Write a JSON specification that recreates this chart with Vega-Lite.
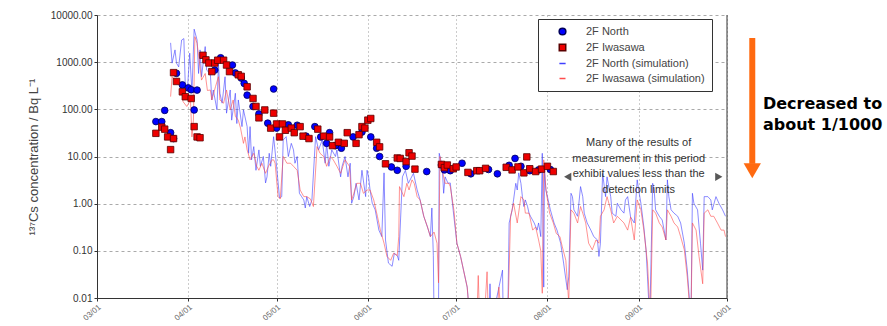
{
"$schema":"https://vega.github.io/schema/vega-lite/v6.json",
"width":630,"height":283,
"autosize":{"type":"none"},
"padding":{"left":97,"top":15,"right":160,"bottom":28},
"background":"white",
"config":{"view":{"stroke":null},"font":"Liberation Sans",
 "legend":{"orient":"none","legendX":441,"legendY":4,"strokeColor":"#333","fillColor":"#fff","padding":7,"labelFontSize":11,"labelColor":"#444","rowPadding":3,"symbolStrokeWidth":1.5,"symbolOpacity":1,"labelOffset":18,"symbolOffset":12}},
"datasets":{
"obs":[
{"date":"2011/03/21","value":55,"series":"2F North"},
{"date":"2011/03/23","value":55,"series":"2F North"},
{"date":"2011/03/24","value":95,"series":"2F North"},
{"date":"2011/03/26","value":32,"series":"2F North"},
{"date":"2011/03/27","value":24,"series":"2F North"},
{"date":"2011/03/28","value":580,"series":"2F North"},
{"date":"2011/03/30","value":330,"series":"2F North"},
{"date":"2011/04/01","value":285,"series":"2F North"},
{"date":"2011/04/02","value":260,"series":"2F North"},
{"date":"2011/04/03","value":97,"series":"2F North"},
{"date":"2011/04/04","value":256,"series":"2F North"},
{"date":"2011/04/10","value":680,"series":"2F North"},
{"date":"2011/04/12","value":1240,"series":"2F North"},
{"date":"2011/04/16","value":870,"series":"2F North"},
{"date":"2011/04/17","value":590,"series":"2F North"},
{"date":"2011/04/19","value":460,"series":"2F North"},
{"date":"2011/04/20","value":355,"series":"2F North"},
{"date":"2011/04/21","value":200,"series":"2F North"},
{"date":"2011/04/23","value":115,"series":"2F North"},
{"date":"2011/04/25","value":80,"series":"2F North"},
{"date":"2011/04/28","value":51,"series":"2F North"},
{"date":"2011/04/30","value":270,"series":"2F North"},
{"date":"2011/05/01","value":40,"series":"2F North"},
{"date":"2011/05/05","value":47,"series":"2F North"},
{"date":"2011/05/08","value":46,"series":"2F North"},
{"date":"2011/05/11","value":27,"series":"2F North"},
{"date":"2011/05/14","value":43,"series":"2F North"},
{"date":"2011/05/16","value":26,"series":"2F North"},
{"date":"2011/05/18","value":19,"series":"2F North"},
{"date":"2011/05/19","value":32,"series":"2F North"},
{"date":"2011/05/21","value":17,"series":"2F North"},
{"date":"2011/05/23","value":15,"series":"2F North"},
{"date":"2011/05/27","value":26,"series":"2F North"},
{"date":"2011/05/30","value":33,"series":"2F North"},
{"date":"2011/06/02","value":26,"series":"2F North"},
{"date":"2011/06/04","value":15,"series":"2F North"},
{"date":"2011/06/05","value":10,"series":"2F North"},
{"date":"2011/06/09","value":6,"series":"2F North"},
{"date":"2011/06/11","value":5.1,"series":"2F North"},
{"date":"2011/06/14","value":6.2,"series":"2F North"},
{"date":"2011/06/21","value":4.8,"series":"2F North"},
{"date":"2011/06/26","value":6.6,"series":"2F North"},
{"date":"2011/06/27","value":5.2,"series":"2F North"},
{"date":"2011/06/29","value":5,"series":"2F North"},
{"date":"2011/07/03","value":7.2,"series":"2F North"},
{"date":"2011/07/06","value":4.3,"series":"2F North"},
{"date":"2011/07/12","value":5.3,"series":"2F North"},
{"date":"2011/07/15","value":4.3,"series":"2F North"},
{"date":"2011/07/19","value":6.5,"series":"2F North"},
{"date":"2011/07/21","value":9.1,"series":"2F North"},
{"date":"2011/07/23","value":6.2,"series":"2F North"},
{"date":"2011/07/26","value":5,"series":"2F North"},
{"date":"2011/07/29","value":5.2,"series":"2F North"},
{"date":"2011/08/02","value":5.3,"series":"2F North"},
{"date":"2011/03/21","value":31,"series":"2F Iwasawa"},
{"date":"2011/03/23","value":42,"series":"2F Iwasawa"},
{"date":"2011/03/24","value":38,"series":"2F Iwasawa"},
{"date":"2011/03/25","value":26,"series":"2F Iwasawa"},
{"date":"2011/03/26","value":14,"series":"2F Iwasawa"},
{"date":"2011/03/27","value":24,"series":"2F Iwasawa"},
{"date":"2011/03/27","value":600,"series":"2F Iwasawa"},
{"date":"2011/03/28","value":390,"series":"2F Iwasawa"},
{"date":"2011/03/30","value":235,"series":"2F Iwasawa"},
{"date":"2011/03/31","value":185,"series":"2F Iwasawa"},
{"date":"2011/04/02","value":170,"series":"2F Iwasawa"},
{"date":"2011/04/03","value":43,"series":"2F Iwasawa"},
{"date":"2011/04/04","value":26,"series":"2F Iwasawa"},
{"date":"2011/04/05","value":25,"series":"2F Iwasawa"},
{"date":"2011/04/06","value":1400,"series":"2F Iwasawa"},
{"date":"2011/04/07","value":1120,"series":"2F Iwasawa"},
{"date":"2011/04/08","value":960,"series":"2F Iwasawa"},
{"date":"2011/04/09","value":630,"series":"2F Iwasawa"},
{"date":"2011/04/10","value":960,"series":"2F Iwasawa"},
{"date":"2011/04/11","value":1100,"series":"2F Iwasawa"},
{"date":"2011/04/13","value":1100,"series":"2F Iwasawa"},
{"date":"2011/04/14","value":870,"series":"2F Iwasawa"},
{"date":"2011/04/15","value":630,"series":"2F Iwasawa"},
{"date":"2011/04/18","value":540,"series":"2F Iwasawa"},
{"date":"2011/04/19","value":500,"series":"2F Iwasawa"},
{"date":"2011/04/21","value":300,"series":"2F Iwasawa"},
{"date":"2011/04/23","value":170,"series":"2F Iwasawa"},
{"date":"2011/04/24","value":115,"series":"2F Iwasawa"},
{"date":"2011/04/25","value":66,"series":"2F Iwasawa"},
{"date":"2011/04/27","value":97,"series":"2F Iwasawa"},
{"date":"2011/04/29","value":40,"series":"2F Iwasawa"},
{"date":"2011/04/30","value":83,"series":"2F Iwasawa"},
{"date":"2011/05/01","value":49,"series":"2F Iwasawa"},
{"date":"2011/05/02","value":26,"series":"2F Iwasawa"},
{"date":"2011/05/03","value":49,"series":"2F Iwasawa"},
{"date":"2011/05/04","value":36,"series":"2F Iwasawa"},
{"date":"2011/05/06","value":40,"series":"2F Iwasawa"},
{"date":"2011/05/07","value":32,"series":"2F Iwasawa"},
{"date":"2011/05/09","value":43,"series":"2F Iwasawa"},
{"date":"2011/05/10","value":27,"series":"2F Iwasawa"},
{"date":"2011/05/12","value":24,"series":"2F Iwasawa"},
{"date":"2011/05/15","value":38,"series":"2F Iwasawa"},
{"date":"2011/05/17","value":27,"series":"2F Iwasawa"},
{"date":"2011/05/19","value":26,"series":"2F Iwasawa"},
{"date":"2011/05/20","value":17,"series":"2F Iwasawa"},
{"date":"2011/05/22","value":20,"series":"2F Iwasawa"},
{"date":"2011/05/24","value":19,"series":"2F Iwasawa"},
{"date":"2011/05/25","value":32,"series":"2F Iwasawa"},
{"date":"2011/05/28","value":19,"series":"2F Iwasawa"},
{"date":"2011/05/29","value":29,"series":"2F Iwasawa"},
{"date":"2011/05/30","value":43,"series":"2F Iwasawa"},
{"date":"2011/05/31","value":40,"series":"2F Iwasawa"},
{"date":"2011/06/01","value":59,"series":"2F Iwasawa"},
{"date":"2011/06/02","value":64,"series":"2F Iwasawa"},
{"date":"2011/06/04","value":20,"series":"2F Iwasawa"},
{"date":"2011/06/05","value":16,"series":"2F Iwasawa"},
{"date":"2011/06/07","value":7,"series":"2F Iwasawa"},
{"date":"2011/06/11","value":9.3,"series":"2F Iwasawa"},
{"date":"2011/06/12","value":9.1,"series":"2F Iwasawa"},
{"date":"2011/06/14","value":7.8,"series":"2F Iwasawa"},
{"date":"2011/06/15","value":12,"series":"2F Iwasawa"},
{"date":"2011/06/16","value":10.2,"series":"2F Iwasawa"},
{"date":"2011/06/17","value":5.4,"series":"2F Iwasawa"},
{"date":"2011/06/26","value":6.8,"series":"2F Iwasawa"},
{"date":"2011/06/27","value":5.8,"series":"2F Iwasawa"},
{"date":"2011/06/28","value":6.6,"series":"2F Iwasawa"},
{"date":"2011/06/30","value":5.5,"series":"2F Iwasawa"},
{"date":"2011/07/01","value":6,"series":"2F Iwasawa"},
{"date":"2011/07/05","value":4.6,"series":"2F Iwasawa"},
{"date":"2011/07/08","value":5,"series":"2F Iwasawa"},
{"date":"2011/07/09","value":5,"series":"2F Iwasawa"},
{"date":"2011/07/11","value":5.6,"series":"2F Iwasawa"},
{"date":"2011/07/18","value":5.9,"series":"2F Iwasawa"},
{"date":"2011/07/20","value":5.2,"series":"2F Iwasawa"},
{"date":"2011/07/22","value":6,"series":"2F Iwasawa"},
{"date":"2011/07/24","value":4.5,"series":"2F Iwasawa"},
{"date":"2011/07/25","value":9.8,"series":"2F Iwasawa"},
{"date":"2011/07/26","value":5.5,"series":"2F Iwasawa"},
{"date":"2011/07/28","value":4.8,"series":"2F Iwasawa"},
{"date":"2011/07/30","value":5.4,"series":"2F Iwasawa"},
{"date":"2011/08/01","value":6.2,"series":"2F Iwasawa"},
{"date":"2011/08/03","value":4.8,"series":"2F Iwasawa"}
],
"sim":[
{"date":"2011/03/26","value":2570,"series":"2F North (simulation)"},
{"date":"2011/03/26 12:00","value":955,"series":"2F North (simulation)"},
{"date":"2011/03/27 12:00","value":1820,"series":"2F North (simulation)"},
{"date":"2011/03/28","value":955,"series":"2F North (simulation)"},
{"date":"2011/03/28 18:00","value":794,"series":"2F North (simulation)"},
{"date":"2011/03/29 18:00","value":2950,"series":"2F North (simulation)"},
{"date":"2011/03/30 12:00","value":3160,"series":"2F North (simulation)"},
{"date":"2011/03/31","value":302,"series":"2F North (simulation)"},
{"date":"2011/03/31 18:00","value":282,"series":"2F North (simulation)"},
{"date":"2011/04/01 12:00","value":1550,"series":"2F North (simulation)"},
{"date":"2011/04/02 06:00","value":224,"series":"2F North (simulation)"},
{"date":"2011/04/03","value":5010,"series":"2F North (simulation)"},
{"date":"2011/04/04","value":2950,"series":"2F North (simulation)"},
{"date":"2011/04/04 12:00","value":575,"series":"2F North (simulation)"},
{"date":"2011/04/05","value":1820,"series":"2F North (simulation)"},
{"date":"2011/04/05 12:00","value":490,"series":"2F North (simulation)"},
{"date":"2011/04/06 18:00","value":2140,"series":"2F North (simulation)"},
{"date":"2011/04/07 06:00","value":676,"series":"2F North (simulation)"},
{"date":"2011/04/08 12:00","value":575,"series":"2F North (simulation)"},
{"date":"2011/04/09","value":158,"series":"2F North (simulation)"},
{"date":"2011/04/09 12:00","value":257,"series":"2F North (simulation)"},
{"date":"2011/04/10 18:00","value":98,"series":"2F North (simulation)"},
{"date":"2011/04/11 06:00","value":955,"series":"2F North (simulation)"},
{"date":"2011/04/11 18:00","value":219,"series":"2F North (simulation)"},
{"date":"2011/04/12 12:00","value":135,"series":"2F North (simulation)"},
{"date":"2011/04/13 12:00","value":490,"series":"2F North (simulation)"},
{"date":"2011/04/14","value":83,"series":"2F North (simulation)"},
{"date":"2011/04/15 06:00","value":257,"series":"2F North (simulation)"},
{"date":"2011/04/15 18:00","value":59,"series":"2F North (simulation)"},
{"date":"2011/04/17","value":219,"series":"2F North (simulation)"},
{"date":"2011/04/17 12:00","value":50,"series":"2F North (simulation)"},
{"date":"2011/04/18","value":158,"series":"2F North (simulation)"},
{"date":"2011/04/19 06:00","value":43,"series":"2F North (simulation)"},
{"date":"2011/04/19 18:00","value":98,"series":"2F North (simulation)"},
{"date":"2011/04/21","value":43,"series":"2F North (simulation)"},
{"date":"2011/04/21 12:00","value":11.7,"series":"2F North (simulation)"},
{"date":"2011/04/22","value":43,"series":"2F North (simulation)"},
{"date":"2011/04/22 12:00","value":8.5,"series":"2F North (simulation)"},
{"date":"2011/04/23 06:00","value":16.2,"series":"2F North (simulation)"},
{"date":"2011/04/24","value":5.1,"series":"2F North (simulation)"},
{"date":"2011/04/25","value":13.8,"series":"2F North (simulation)"},
{"date":"2011/04/25 12:00","value":6.2,"series":"2F North (simulation)"},
{"date":"2011/04/26 12:00","value":10,"series":"2F North (simulation)"},
{"date":"2011/04/27 06:00","value":2.75,"series":"2F North (simulation)"},
{"date":"2011/04/27 18:00","value":3.7,"series":"2F North (simulation)"},
{"date":"2011/04/28 12:00","value":11.7,"series":"2F North (simulation)"},
{"date":"2011/04/29","value":6.2,"series":"2F North (simulation)"},
{"date":"2011/04/30","value":26.3,"series":"2F North (simulation)"},
{"date":"2011/05/01","value":6.2,"series":"2F North (simulation)"},
{"date":"2011/05/02","value":1.32,"series":"2F North (simulation)"},
{"date":"2011/05/02 18:00","value":1.41,"series":"2F North (simulation)"},
{"date":"2011/05/03 06:00","value":22.4,"series":"2F North (simulation)"},
{"date":"2011/05/04 06:00","value":26.3,"series":"2F North (simulation)"},
{"date":"2011/05/05","value":10,"series":"2F North (simulation)"},
{"date":"2011/05/06","value":19,"series":"2F North (simulation)"},
{"date":"2011/05/06 18:00","value":13.8,"series":"2F North (simulation)"},
{"date":"2011/05/07 06:00","value":7.2,"series":"2F North (simulation)"},
{"date":"2011/05/08","value":10,"series":"2F North (simulation)"},
{"date":"2011/05/08 18:00","value":1.66,"series":"2F North (simulation)"},
{"date":"2011/05/09 12:00","value":1.41,"series":"2F North (simulation)"},
{"date":"2011/05/10 06:00","value":1.2,"series":"2F North (simulation)"},
{"date":"2011/05/10 18:00","value":0.81,"series":"2F North (simulation)"},
{"date":"2011/05/11 06:00","value":1.41,"series":"2F North (simulation)"},
{"date":"2011/05/12 06:00","value":0.87,"series":"2F North (simulation)"},
{"date":"2011/05/13","value":1.2,"series":"2F North (simulation)"},
{"date":"2011/05/14 06:00","value":26.3,"series":"2F North (simulation)"},
{"date":"2011/05/15 06:00","value":13.8,"series":"2F North (simulation)"},
{"date":"2011/05/16 12:00","value":22.4,"series":"2F North (simulation)"},
{"date":"2011/05/17 12:00","value":7.2,"series":"2F North (simulation)"},
{"date":"2011/05/18","value":19,"series":"2F North (simulation)"},
{"date":"2011/05/18 18:00","value":6.2,"series":"2F North (simulation)"},
{"date":"2011/05/19 18:00","value":13.8,"series":"2F North (simulation)"},
{"date":"2011/05/21","value":10,"series":"2F North (simulation)"},
{"date":"2011/05/21 12:00","value":13.8,"series":"2F North (simulation)"},
{"date":"2011/05/22 18:00","value":3.7,"series":"2F North (simulation)"},
{"date":"2011/05/23 06:00","value":6.2,"series":"2F North (simulation)"},
{"date":"2011/05/24 06:00","value":10,"series":"2F North (simulation)"},
{"date":"2011/05/25 06:00","value":3.7,"series":"2F North (simulation)"},
{"date":"2011/05/26","value":7.2,"series":"2F North (simulation)"},
{"date":"2011/05/26 12:00","value":1.02,"series":"2F North (simulation)"},
{"date":"2011/05/27 06:00","value":1.41,"series":"2F North (simulation)"},
{"date":"2011/05/28","value":2.7,"series":"2F North (simulation)"},
{"date":"2011/05/29","value":1.2,"series":"2F North (simulation)"},
{"date":"2011/05/30","value":5.1,"series":"2F North (simulation)"},
{"date":"2011/05/31 06:00","value":1.41,"series":"2F North (simulation)"},
{"date":"2011/05/31 18:00","value":5.1,"series":"2F North (simulation)"},
{"date":"2011/06/01 06:00","value":3.7,"series":"2F North (simulation)"},
{"date":"2011/06/01 18:00","value":1.95,"series":"2F North (simulation)"},
{"date":"2011/06/02 12:00","value":1.02,"series":"2F North (simulation)"},
{"date":"2011/06/03 12:00","value":0.74,"series":"2F North (simulation)"},
{"date":"2011/06/04 18:00","value":0.275,"series":"2F North (simulation)"},
{"date":"2011/06/05 18:00","value":0.2,"series":"2F North (simulation)"},
{"date":"2011/06/06 12:00","value":4.5,"series":"2F North (simulation)"},
{"date":"2011/06/07","value":0.17,"series":"2F North (simulation)"},
{"date":"2011/06/08","value":0.055,"series":"2F North (simulation)"},
{"date":"2011/06/09 06:00","value":0.047,"series":"2F North (simulation)"},
{"date":"2011/06/10","value":0.089,"series":"2F North (simulation)"},
{"date":"2011/06/11","value":0.079,"series":"2F North (simulation)"},
{"date":"2011/06/11 12:00","value":0.063,"series":"2F North (simulation)"},
{"date":"2011/06/12 18:00","value":3.7,"series":"2F North (simulation)"},
{"date":"2011/06/13 18:00","value":5.1,"series":"2F North (simulation)"},
{"date":"2011/06/14 18:00","value":2.7,"series":"2F North (simulation)"},
{"date":"2011/06/16 12:00","value":4.4,"series":"2F North (simulation)"},
{"date":"2011/06/17 18:00","value":1.95,"series":"2F North (simulation)"},
{"date":"2011/06/18 18:00","value":1.2,"series":"2F North (simulation)"},
{"date":"2011/06/20","value":0.54,"series":"2F North (simulation)"},
{"date":"2011/06/21 06:00","value":0.32,"series":"2F North (simulation)"},
{"date":"2011/06/22 06:00","value":0.2,"series":"2F North (simulation)"},
{"date":"2011/06/22 18:00","value":0.81,"series":"2F North (simulation)"},
{"date":"2011/06/23 06:00","value":0.079,"series":"2F North (simulation)"},
{"date":"2011/06/23 12:00","value":0.003,"series":"2F North (simulation)"},
{"date":"2011/06/25","value":0.003,"series":"2F North (simulation)"},
{"date":"2011/06/25 06:00","value":11.7,"series":"2F North (simulation)"},
{"date":"2011/06/26 06:00","value":6.2,"series":"2F North (simulation)"},
{"date":"2011/06/26 18:00","value":1.66,"series":"2F North (simulation)"},
{"date":"2011/06/27 06:00","value":3.7,"series":"2F North (simulation)"},
{"date":"2011/06/28 06:00","value":2.7,"series":"2F North (simulation)"},
{"date":"2011/06/29","value":2.75,"series":"2F North (simulation)"},
{"date":"2011/06/30","value":0.72,"series":"2F North (simulation)"},
{"date":"2011/07/01 06:00","value":0.145,"series":"2F North (simulation)"},
{"date":"2011/07/02 12:00","value":0.076,"series":"2F North (simulation)"},
{"date":"2011/07/03 12:00","value":0.039,"series":"2F North (simulation)"},
{"date":"2011/07/04 18:00","value":0.017,"series":"2F North (simulation)"},
{"date":"2011/07/05 18:00","value":0.003,"series":"2F North (simulation)"},
{"date":"2011/07/12","value":0.003,"series":"2F North (simulation)"},
{"date":"2011/07/12 12:00","value":0.02,"series":"2F North (simulation)"},
{"date":"2011/07/13","value":0.003,"series":"2F North (simulation)"},
{"date":"2011/07/16 18:00","value":0.039,"series":"2F North (simulation)"},
{"date":"2011/07/17","value":0.003,"series":"2F North (simulation)"},
{"date":"2011/07/18 12:00","value":0.003,"series":"2F North (simulation)"},
{"date":"2011/07/19","value":0.39,"series":"2F North (simulation)"},
{"date":"2011/07/20","value":0.72,"series":"2F North (simulation)"},
{"date":"2011/07/20 12:00","value":1.2,"series":"2F North (simulation)"},
{"date":"2011/07/21 06:00","value":2.7,"series":"2F North (simulation)"},
{"date":"2011/07/21 18:00","value":1.95,"series":"2F North (simulation)"},
{"date":"2011/07/22 06:00","value":4.5,"series":"2F North (simulation)"},
{"date":"2011/07/23","value":2.7,"series":"2F North (simulation)"},
{"date":"2011/07/23 12:00","value":1.41,"series":"2F North (simulation)"},
{"date":"2011/07/24","value":0.87,"series":"2F North (simulation)"},
{"date":"2011/07/24 12:00","value":1.2,"series":"2F North (simulation)"},
{"date":"2011/07/25 06:00","value":0.87,"series":"2F North (simulation)"},
{"date":"2011/07/25 18:00","value":0.63,"series":"2F North (simulation)"},
{"date":"2011/07/26 06:00","value":0.54,"series":"2F North (simulation)"},
{"date":"2011/07/27 12:00","value":0.39,"series":"2F North (simulation)"},
{"date":"2011/07/28 12:00","value":0.275,"series":"2F North (simulation)"},
{"date":"2011/07/29","value":0.39,"series":"2F North (simulation)"},
{"date":"2011/07/29 18:00","value":0.2,"series":"2F North (simulation)"},
{"date":"2011/07/30 06:00","value":11.7,"series":"2F North (simulation)"},
{"date":"2011/07/30 18:00","value":0.017,"series":"2F North (simulation)"},
{"date":"2011/07/31","value":5.1,"series":"2F North (simulation)"},
{"date":"2011/07/31 12:00","value":1.95,"series":"2F North (simulation)"},
{"date":"2011/08/01","value":1.41,"series":"2F North (simulation)"},
{"date":"2011/08/02","value":0.74,"series":"2F North (simulation)"},
{"date":"2011/08/03 06:00","value":0.39,"series":"2F North (simulation)"},
{"date":"2011/08/04 06:00","value":0.275,"series":"2F North (simulation)"},
{"date":"2011/08/05 12:00","value":0.145,"series":"2F North (simulation)"},
{"date":"2011/08/06 12:00","value":0.055,"series":"2F North (simulation)"},
{"date":"2011/08/07 06:00","value":0.025,"series":"2F North (simulation)"},
{"date":"2011/08/07 18:00","value":0.015,"series":"2F North (simulation)"},
{"date":"2011/08/08 06:00","value":0.028,"series":"2F North (simulation)"},
{"date":"2011/08/09","value":1.66,"series":"2F North (simulation)"},
{"date":"2011/08/09 12:00","value":1.41,"series":"2F North (simulation)"},
{"date":"2011/08/10","value":0.74,"series":"2F North (simulation)"},
{"date":"2011/08/11 06:00","value":0.54,"series":"2F North (simulation)"},
{"date":"2011/08/12 06:00","value":2.3,"series":"2F North (simulation)"},
{"date":"2011/08/13","value":1.41,"series":"2F North (simulation)"},
{"date":"2011/08/13 12:00","value":0.63,"series":"2F North (simulation)"},
{"date":"2011/08/14 12:00","value":0.39,"series":"2F North (simulation)"},
{"date":"2011/08/15 18:00","value":0.275,"series":"2F North (simulation)"},
{"date":"2011/08/16 18:00","value":0.2,"series":"2F North (simulation)"},
{"date":"2011/08/18","value":0.17,"series":"2F North (simulation)"},
{"date":"2011/08/18 12:00","value":0.076,"series":"2F North (simulation)"},
{"date":"2011/08/19","value":0.145,"series":"2F North (simulation)"},
{"date":"2011/08/19 18:00","value":4.4,"series":"2F North (simulation)"},
{"date":"2011/08/20 18:00","value":1.41,"series":"2F North (simulation)"},
{"date":"2011/08/21 06:00","value":3.7,"series":"2F North (simulation)"},
{"date":"2011/08/22 12:00","value":1.41,"series":"2F North (simulation)"},
{"date":"2011/08/23","value":0.63,"series":"2F North (simulation)"},
{"date":"2011/08/24 06:00","value":0.54,"series":"2F North (simulation)"},
{"date":"2011/08/24 18:00","value":1.02,"series":"2F North (simulation)"},
{"date":"2011/08/26","value":0.74,"series":"2F North (simulation)"},
{"date":"2011/08/27","value":0.63,"series":"2F North (simulation)"},
{"date":"2011/08/27 12:00","value":1.2,"series":"2F North (simulation)"},
{"date":"2011/08/28 06:00","value":1.41,"series":"2F North (simulation)"},
{"date":"2011/08/29 06:00","value":0.52,"series":"2F North (simulation)"},
{"date":"2011/08/30 12:00","value":0.39,"series":"2F North (simulation)"},
{"date":"2011/08/31 12:00","value":3.2,"series":"2F North (simulation)"},
{"date":"2011/09/01","value":1.95,"series":"2F North (simulation)"},
{"date":"2011/09/01 18:00","value":1.02,"series":"2F North (simulation)"},
{"date":"2011/09/02 18:00","value":0.32,"series":"2F North (simulation)"},
{"date":"2011/09/03 12:00","value":0.105,"series":"2F North (simulation)"},
{"date":"2011/09/04","value":0.028,"series":"2F North (simulation)"},
{"date":"2011/09/04 18:00","value":0.003,"series":"2F North (simulation)"},
{"date":"2011/09/05 18:00","value":2.7,"series":"2F North (simulation)"},
{"date":"2011/09/06 06:00","value":1.95,"series":"2F North (simulation)"},
{"date":"2011/09/06 18:00","value":0.74,"series":"2F North (simulation)"},
{"date":"2011/09/08","value":0.54,"series":"2F North (simulation)"},
{"date":"2011/09/09","value":0.45,"series":"2F North (simulation)"},
{"date":"2011/09/10 06:00","value":0.17,"series":"2F North (simulation)"},
{"date":"2011/09/10 18:00","value":3.2,"series":"2F North (simulation)"},
{"date":"2011/09/11 06:00","value":1.41,"series":"2F North (simulation)"},
{"date":"2011/09/12","value":0.74,"series":"2F North (simulation)"},
{"date":"2011/09/13","value":0.63,"series":"2F North (simulation)"},
{"date":"2011/09/14 06:00","value":0.54,"series":"2F North (simulation)"},
{"date":"2011/09/15 06:00","value":0.39,"series":"2F North (simulation)"},
{"date":"2011/09/16 12:00","value":0.145,"series":"2F North (simulation)"},
{"date":"2011/09/17 12:00","value":0.039,"series":"2F North (simulation)"},
{"date":"2011/09/18","value":0.015,"series":"2F North (simulation)"},
{"date":"2011/09/18 18:00","value":0.003,"series":"2F North (simulation)"},
{"date":"2011/09/19 06:00","value":1.66,"series":"2F North (simulation)"},
{"date":"2011/09/19 18:00","value":1.02,"series":"2F North (simulation)"},
{"date":"2011/09/21","value":0.74,"series":"2F North (simulation)"},
{"date":"2011/09/22","value":0.145,"series":"2F North (simulation)"},
{"date":"2011/09/22 18:00","value":0.039,"series":"2F North (simulation)"},
{"date":"2011/09/23 06:00","value":1.41,"series":"2F North (simulation)"},
{"date":"2011/09/24 12:00","value":1.41,"series":"2F North (simulation)"},
{"date":"2011/09/25 12:00","value":1.2,"series":"2F North (simulation)"},
{"date":"2011/09/26","value":0.74,"series":"2F North (simulation)"},
{"date":"2011/09/27 06:00","value":1.41,"series":"2F North (simulation)"},
{"date":"2011/09/28 06:00","value":1.02,"series":"2F North (simulation)"},
{"date":"2011/09/29 12:00","value":0.74,"series":"2F North (simulation)"},
{"date":"2011/09/30 12:00","value":0.54,"series":"2F North (simulation)"},
{"date":"2011/03/26","value":186,"series":"2F Iwasawa (simulation)"},
{"date":"2011/03/26 12:00","value":490,"series":"2F Iwasawa (simulation)"},
{"date":"2011/03/27 12:00","value":417,"series":"2F Iwasawa (simulation)"},
{"date":"2011/03/28 18:00","value":355,"series":"2F Iwasawa (simulation)"},
{"date":"2011/03/29 18:00","value":257,"series":"2F Iwasawa (simulation)"},
{"date":"2011/03/30 06:00","value":145,"series":"2F Iwasawa (simulation)"},
{"date":"2011/03/31 12:00","value":115,"series":"2F Iwasawa (simulation)"},
{"date":"2011/04/01 18:00","value":158,"series":"2F Iwasawa (simulation)"},
{"date":"2011/04/02 06:00","value":26,"series":"2F Iwasawa (simulation)"},
{"date":"2011/04/02 18:00","value":59,"series":"2F Iwasawa (simulation)"},
{"date":"2011/04/03 06:00","value":3470,"series":"2F Iwasawa (simulation)"},
{"date":"2011/04/04","value":2510,"series":"2F Iwasawa (simulation)"},
{"date":"2011/04/05","value":794,"series":"2F Iwasawa (simulation)"},
{"date":"2011/04/05 12:00","value":417,"series":"2F Iwasawa (simulation)"},
{"date":"2011/04/06 18:00","value":575,"series":"2F Iwasawa (simulation)"},
{"date":"2011/04/07 12:00","value":251,"series":"2F Iwasawa (simulation)"},
{"date":"2011/04/08 12:00","value":257,"series":"2F Iwasawa (simulation)"},
{"date":"2011/04/09","value":158,"series":"2F Iwasawa (simulation)"},
{"date":"2011/04/10 06:00","value":302,"series":"2F Iwasawa (simulation)"},
{"date":"2011/04/11 06:00","value":490,"series":"2F Iwasawa (simulation)"},
{"date":"2011/04/11 18:00","value":158,"series":"2F Iwasawa (simulation)"},
{"date":"2011/04/13","value":135,"series":"2F Iwasawa (simulation)"},
{"date":"2011/04/14","value":257,"series":"2F Iwasawa (simulation)"},
{"date":"2011/04/15 06:00","value":98,"series":"2F Iwasawa (simulation)"},
{"date":"2011/04/16 06:00","value":158,"series":"2F Iwasawa (simulation)"},
{"date":"2011/04/17","value":71,"series":"2F Iwasawa (simulation)"},
{"date":"2011/04/18","value":59,"series":"2F Iwasawa (simulation)"},
{"date":"2011/04/18 18:00","value":40,"series":"2F Iwasawa (simulation)"},
{"date":"2011/04/19 18:00","value":19,"series":"2F Iwasawa (simulation)"},
{"date":"2011/04/20 06:00","value":26,"series":"2F Iwasawa (simulation)"},
{"date":"2011/04/21","value":13.8,"series":"2F Iwasawa (simulation)"},
{"date":"2011/04/22","value":8.5,"series":"2F Iwasawa (simulation)"},
{"date":"2011/04/23 06:00","value":11.7,"series":"2F Iwasawa (simulation)"},
{"date":"2011/04/24 06:00","value":6.2,"series":"2F Iwasawa (simulation)"},
{"date":"2011/04/25","value":5.1,"series":"2F Iwasawa (simulation)"},
{"date":"2011/04/26","value":7.2,"series":"2F Iwasawa (simulation)"},
{"date":"2011/04/27 06:00","value":4.4,"series":"2F Iwasawa (simulation)"},
{"date":"2011/04/28 06:00","value":6.2,"series":"2F Iwasawa (simulation)"},
{"date":"2011/04/29 12:00","value":8.5,"series":"2F Iwasawa (simulation)"},
{"date":"2011/04/30","value":8.5,"series":"2F Iwasawa (simulation)"},
{"date":"2011/04/30 12:00","value":7.2,"series":"2F Iwasawa (simulation)"},
{"date":"2011/05/01 12:00","value":1.41,"series":"2F Iwasawa (simulation)"},
{"date":"2011/05/02 06:00","value":1.26,"series":"2F Iwasawa (simulation)"},
{"date":"2011/05/03 06:00","value":10,"series":"2F Iwasawa (simulation)"},
{"date":"2011/05/04 12:00","value":7.2,"series":"2F Iwasawa (simulation)"},
{"date":"2011/05/05 18:00","value":7.2,"series":"2F Iwasawa (simulation)"},
{"date":"2011/05/06 18:00","value":6.2,"series":"2F Iwasawa (simulation)"},
{"date":"2011/05/08","value":5.1,"series":"2F Iwasawa (simulation)"},
{"date":"2011/05/09","value":1.95,"series":"2F Iwasawa (simulation)"},
{"date":"2011/05/10 06:00","value":1.41,"series":"2F Iwasawa (simulation)"},
{"date":"2011/05/11 06:00","value":1.41,"series":"2F Iwasawa (simulation)"},
{"date":"2011/05/12 12:00","value":1.26,"series":"2F Iwasawa (simulation)"},
{"date":"2011/05/13 12:00","value":0.87,"series":"2F Iwasawa (simulation)"},
{"date":"2011/05/14 18:00","value":16.2,"series":"2F Iwasawa (simulation)"},
{"date":"2011/05/15 18:00","value":11.7,"series":"2F Iwasawa (simulation)"},
{"date":"2011/05/17","value":10,"series":"2F Iwasawa (simulation)"},
{"date":"2011/05/18","value":6.2,"series":"2F Iwasawa (simulation)"},
{"date":"2011/05/19 06:00","value":10,"series":"2F Iwasawa (simulation)"},
{"date":"2011/05/20 06:00","value":8.5,"series":"2F Iwasawa (simulation)"},
{"date":"2011/05/21 12:00","value":6.2,"series":"2F Iwasawa (simulation)"},
{"date":"2011/05/22 18:00","value":4.4,"series":"2F Iwasawa (simulation)"},
{"date":"2011/05/24 06:00","value":8.5,"series":"2F Iwasawa (simulation)"},
{"date":"2011/05/25 18:00","value":6.2,"series":"2F Iwasawa (simulation)"},
{"date":"2011/05/26 12:00","value":1.2,"series":"2F Iwasawa (simulation)"},
{"date":"2011/05/27 06:00","value":1.66,"series":"2F Iwasawa (simulation)"},
{"date":"2011/05/28 06:00","value":2.7,"series":"2F Iwasawa (simulation)"},
{"date":"2011/05/29 12:00","value":2.7,"series":"2F Iwasawa (simulation)"},
{"date":"2011/05/30 12:00","value":1.66,"series":"2F Iwasawa (simulation)"},
{"date":"2011/05/31 18:00","value":1.95,"series":"2F Iwasawa (simulation)"},
{"date":"2011/06/01 18:00","value":1.95,"series":"2F Iwasawa (simulation)"},
{"date":"2011/06/03","value":1.2,"series":"2F Iwasawa (simulation)"},
{"date":"2011/06/04 06:00","value":0.54,"series":"2F Iwasawa (simulation)"},
{"date":"2011/06/05 06:00","value":0.275,"series":"2F Iwasawa (simulation)"},
{"date":"2011/06/06 12:00","value":0.145,"series":"2F Iwasawa (simulation)"},
{"date":"2011/06/07 12:00","value":0.076,"series":"2F Iwasawa (simulation)"},
{"date":"2011/06/08 18:00","value":0.063,"series":"2F Iwasawa (simulation)"},
{"date":"2011/06/09 18:00","value":0.089,"series":"2F Iwasawa (simulation)"},
{"date":"2011/06/11","value":0.079,"series":"2F Iwasawa (simulation)"},
{"date":"2011/06/11 12:00","value":0.2,"series":"2F Iwasawa (simulation)"},
{"date":"2011/06/11 18:00","value":2.3,"series":"2F Iwasawa (simulation)"},
{"date":"2011/06/13 06:00","value":1.41,"series":"2F Iwasawa (simulation)"},
{"date":"2011/06/14 06:00","value":2.7,"series":"2F Iwasawa (simulation)"},
{"date":"2011/06/15","value":1.95,"series":"2F Iwasawa (simulation)"},
{"date":"2011/06/16","value":3.2,"series":"2F Iwasawa (simulation)"},
{"date":"2011/06/16 18:00","value":2.7,"series":"2F Iwasawa (simulation)"},
{"date":"2011/06/17 18:00","value":1.41,"series":"2F Iwasawa (simulation)"},
{"date":"2011/06/18 18:00","value":1.2,"series":"2F Iwasawa (simulation)"},
{"date":"2011/06/20","value":0.54,"series":"2F Iwasawa (simulation)"},
{"date":"2011/06/21 06:00","value":0.32,"series":"2F Iwasawa (simulation)"},
{"date":"2011/06/22 06:00","value":0.2,"series":"2F Iwasawa (simulation)"},
{"date":"2011/06/23 12:00","value":0.25,"series":"2F Iwasawa (simulation)"},
{"date":"2011/06/24 12:00","value":0.145,"series":"2F Iwasawa (simulation)"},
{"date":"2011/06/25","value":0.021,"series":"2F Iwasawa (simulation)"},
{"date":"2011/06/25 12:00","value":10,"series":"2F Iwasawa (simulation)"},
{"date":"2011/06/26 06:00","value":5.1,"series":"2F Iwasawa (simulation)"},
{"date":"2011/06/27 06:00","value":2.7,"series":"2F Iwasawa (simulation)"},
{"date":"2011/06/28 12:00","value":2.7,"series":"2F Iwasawa (simulation)"},
{"date":"2011/06/29","value":2.3,"series":"2F Iwasawa (simulation)"},
{"date":"2011/06/30 06:00","value":0.72,"series":"2F Iwasawa (simulation)"},
{"date":"2011/07/01 06:00","value":0.145,"series":"2F Iwasawa (simulation)"},
{"date":"2011/07/02 12:00","value":0.076,"series":"2F Iwasawa (simulation)"},
{"date":"2011/07/03 12:00","value":0.039,"series":"2F Iwasawa (simulation)"},
{"date":"2011/07/04 18:00","value":0.017,"series":"2F Iwasawa (simulation)"},
{"date":"2011/07/05 18:00","value":0.003,"series":"2F Iwasawa (simulation)"},
{"date":"2011/07/08","value":0.003,"series":"2F Iwasawa (simulation)"},
{"date":"2011/07/08 12:00","value":0.03,"series":"2F Iwasawa (simulation)"},
{"date":"2011/07/09","value":0.003,"series":"2F Iwasawa (simulation)"},
{"date":"2011/07/10 12:00","value":0.003,"series":"2F Iwasawa (simulation)"},
{"date":"2011/07/11 12:00","value":0.036,"series":"2F Iwasawa (simulation)"},
{"date":"2011/07/12","value":0.003,"series":"2F Iwasawa (simulation)"},
{"date":"2011/07/14 18:00","value":0.003,"series":"2F Iwasawa (simulation)"},
{"date":"2011/07/15 12:00","value":0.017,"series":"2F Iwasawa (simulation)"},
{"date":"2011/07/16 12:00","value":0.003,"series":"2F Iwasawa (simulation)"},
{"date":"2011/07/18 12:00","value":0.003,"series":"2F Iwasawa (simulation)"},
{"date":"2011/07/19 12:00","value":0.54,"series":"2F Iwasawa (simulation)"},
{"date":"2011/07/20 12:00","value":1.02,"series":"2F Iwasawa (simulation)"},
{"date":"2011/07/21 18:00","value":0.39,"series":"2F Iwasawa (simulation)"},
{"date":"2011/07/23","value":1.41,"series":"2F Iwasawa (simulation)"},
{"date":"2011/07/24","value":1.2,"series":"2F Iwasawa (simulation)"},
{"date":"2011/07/24 12:00","value":0.63,"series":"2F Iwasawa (simulation)"},
{"date":"2011/07/25 18:00","value":0.63,"series":"2F Iwasawa (simulation)"},
{"date":"2011/07/27","value":0.275,"series":"2F Iwasawa (simulation)"},
{"date":"2011/07/28","value":0.32,"series":"2F Iwasawa (simulation)"},
{"date":"2011/07/29","value":0.17,"series":"2F Iwasawa (simulation)"},
{"date":"2011/07/29 18:00","value":0.1,"series":"2F Iwasawa (simulation)"},
{"date":"2011/07/30 06:00","value":0.0126,"series":"2F Iwasawa (simulation)"},
{"date":"2011/07/30 18:00","value":8.5,"series":"2F Iwasawa (simulation)"},
{"date":"2011/07/31 12:00","value":1.95,"series":"2F Iwasawa (simulation)"},
{"date":"2011/08/01 18:00","value":0.63,"series":"2F Iwasawa (simulation)"},
{"date":"2011/08/03","value":0.39,"series":"2F Iwasawa (simulation)"},
{"date":"2011/08/04","value":0.234,"series":"2F Iwasawa (simulation)"},
{"date":"2011/08/05 06:00","value":0.2,"series":"2F Iwasawa (simulation)"},
{"date":"2011/08/06","value":0.126,"series":"2F Iwasawa (simulation)"},
{"date":"2011/08/07 06:00","value":0.063,"series":"2F Iwasawa (simulation)"},
{"date":"2011/08/08 06:00","value":0.008,"series":"2F Iwasawa (simulation)"},
{"date":"2011/08/09","value":0.74,"series":"2F Iwasawa (simulation)"},
{"date":"2011/08/10","value":0.63,"series":"2F Iwasawa (simulation)"},
{"date":"2011/08/11 06:00","value":0.39,"series":"2F Iwasawa (simulation)"},
{"date":"2011/08/12 06:00","value":0.87,"series":"2F Iwasawa (simulation)"},
{"date":"2011/08/13","value":0.63,"series":"2F Iwasawa (simulation)"},
{"date":"2011/08/14","value":0.39,"series":"2F Iwasawa (simulation)"},
{"date":"2011/08/15","value":0.145,"series":"2F Iwasawa (simulation)"},
{"date":"2011/08/16 06:00","value":0.105,"series":"2F Iwasawa (simulation)"},
{"date":"2011/08/17 12:00","value":0.17,"series":"2F Iwasawa (simulation)"},
{"date":"2011/08/18 12:00","value":0.145,"series":"2F Iwasawa (simulation)"},
{"date":"2011/08/19","value":0.54,"series":"2F Iwasawa (simulation)"},
{"date":"2011/08/20 06:00","value":0.74,"series":"2F Iwasawa (simulation)"},
{"date":"2011/08/21 06:00","value":1.41,"series":"2F Iwasawa (simulation)"},
{"date":"2011/08/22 12:00","value":0.74,"series":"2F Iwasawa (simulation)"},
{"date":"2011/08/23 12:00","value":0.39,"series":"2F Iwasawa (simulation)"},
{"date":"2011/08/24 18:00","value":0.54,"series":"2F Iwasawa (simulation)"},
{"date":"2011/08/26","value":0.45,"series":"2F Iwasawa (simulation)"},
{"date":"2011/08/27","value":0.39,"series":"2F Iwasawa (simulation)"},
{"date":"2011/08/28 06:00","value":0.275,"series":"2F Iwasawa (simulation)"},
{"date":"2011/08/29 06:00","value":0.52,"series":"2F Iwasawa (simulation)"},
{"date":"2011/08/30 12:00","value":0.17,"series":"2F Iwasawa (simulation)"},
{"date":"2011/08/31 12:00","value":1.2,"series":"2F Iwasawa (simulation)"},
{"date":"2011/09/01 18:00","value":0.74,"series":"2F Iwasawa (simulation)"},
{"date":"2011/09/02 18:00","value":0.275,"series":"2F Iwasawa (simulation)"},
{"date":"2011/09/04","value":0.055,"series":"2F Iwasawa (simulation)"},
{"date":"2011/09/05","value":0.003,"series":"2F Iwasawa (simulation)"},
{"date":"2011/09/05 18:00","value":0.74,"series":"2F Iwasawa (simulation)"},
{"date":"2011/09/06 18:00","value":0.63,"series":"2F Iwasawa (simulation)"},
{"date":"2011/09/08","value":0.39,"series":"2F Iwasawa (simulation)"},
{"date":"2011/09/09","value":0.32,"series":"2F Iwasawa (simulation)"},
{"date":"2011/09/10 06:00","value":0.17,"series":"2F Iwasawa (simulation)"},
{"date":"2011/09/10 18:00","value":0.74,"series":"2F Iwasawa (simulation)"},
{"date":"2011/09/12","value":0.54,"series":"2F Iwasawa (simulation)"},
{"date":"2011/09/13","value":0.39,"series":"2F Iwasawa (simulation)"},
{"date":"2011/09/14 06:00","value":0.32,"series":"2F Iwasawa (simulation)"},
{"date":"2011/09/15 06:00","value":0.2,"series":"2F Iwasawa (simulation)"},
{"date":"2011/09/16 12:00","value":0.105,"series":"2F Iwasawa (simulation)"},
{"date":"2011/09/17 12:00","value":0.028,"series":"2F Iwasawa (simulation)"},
{"date":"2011/09/18 18:00","value":0.003,"series":"2F Iwasawa (simulation)"},
{"date":"2011/09/19 06:00","value":0.39,"series":"2F Iwasawa (simulation)"},
{"date":"2011/09/20 12:00","value":0.275,"series":"2F Iwasawa (simulation)"},
{"date":"2011/09/21 12:00","value":0.076,"series":"2F Iwasawa (simulation)"},
{"date":"2011/09/22 18:00","value":0.02,"series":"2F Iwasawa (simulation)"},
{"date":"2011/09/23 06:00","value":0.63,"series":"2F Iwasawa (simulation)"},
{"date":"2011/09/24 12:00","value":0.74,"series":"2F Iwasawa (simulation)"},
{"date":"2011/09/25 12:00","value":0.54,"series":"2F Iwasawa (simulation)"},
{"date":"2011/09/26 12:00","value":0.54,"series":"2F Iwasawa (simulation)"},
{"date":"2011/09/27 18:00","value":0.39,"series":"2F Iwasawa (simulation)"},
{"date":"2011/09/29","value":0.275,"series":"2F Iwasawa (simulation)"},
{"date":"2011/09/30","value":0.275,"series":"2F Iwasawa (simulation)"},
{"date":"2011/09/30 12:00","value":0.2,"series":"2F Iwasawa (simulation)"}
]},
"layer":[
{"data":{"name":"sim"},
 "mark":{"type":"line","strokeWidth":1,"opacity":0.6,"clip":true},
 "encoding":{
  "x":{"field":"date","type":"temporal","scale":{"domain":[{"year":2011,"month":3,"date":1},{"year":2011,"month":10,"date":1}]},
   "axis":{"title":null,"format":"%m/%d","values":[{"year":2011,"month":3,"date":1},{"year":2011,"month":4,"date":1},{"year":2011,"month":5,"date":1},{"year":2011,"month":6,"date":1},{"year":2011,"month":7,"date":1},{"year":2011,"month":8,"date":1},{"year":2011,"month":9,"date":1},{"year":2011,"month":10,"date":1}],
    "labelAngle":-40,"labelAlign":"right","labelBaseline":"top","labelFontSize":8,"labelColor":"#666","labelPadding":2,"grid":true,"gridDash":[1,3],"gridColor":"#999","tickSize":3,"tickColor":"#333","domainColor":"#333"}},
  "y":{"field":"value","type":"quantitative","scale":{"type":"log","domain":[0.01,10000]},
   "axis":{"title":"¹³⁷Cs concentration / Bq L⁻¹","titleFontSize":13,"titleFontWeight":"normal","titleColor":"#444","titlePadding":10,"values":[0.01,0.1,1,10,100,1000,10000],"format":".2f","labelFontSize":10,"labelColor":"#333","labelPadding":2,"grid":true,"gridDash":[3,3],"gridColor":"#aaa","tickSize":3,"tickColor":"#333","domainColor":"#333"}},
  "stroke":{"field":"series","type":"nominal","scale":{"domain":["2F North","2F Iwasawa","2F North (simulation)","2F Iwasawa (simulation)"],"range":["#00005a","#5a0000","#4040ff","#ff4d4d"]},"legend":{"title":null}}
 }},
{"data":{"name":"obs"},
 "mark":{"type":"point","filled":true,"strokeWidth":0.8,"opacity":1,"clip":true},
 "encoding":{
  "x":{"field":"date","type":"temporal"},
  "y":{"field":"value","type":"quantitative"},
  "color":{"field":"series","type":"nominal","scale":{"domain":["2F North","2F Iwasawa","2F North (simulation)","2F Iwasawa (simulation)"],"range":["#0000ff","#ee0000","#4040ff","#ff4d4d"]},"legend":{"title":null}},
  "shape":{"field":"series","type":"nominal","scale":{"domain":["2F North","2F Iwasawa","2F North (simulation)","2F Iwasawa (simulation)"],"range":["circle","square","stroke","stroke"]},"legend":{"title":null}},
  "size":{"field":"series","type":"nominal","scale":{"domain":["2F North","2F Iwasawa","2F North (simulation)","2F Iwasawa (simulation)"],"range":[45,36,225,225]},"legend":{"title":null}},
  "stroke":{"field":"series","type":"nominal","legend":{"title":null}}
 }},
{"data":{"values":[{}]},
 "mark":{"type":"rule","color":"#333","strokeWidth":1,"clip":false},
 "encoding":{
  "x":{"datum":{"year":2011,"month":10,"date":1},"type":"temporal"},
  "y":{"datum":0.01,"type":"quantitative"},
  "y2":{"datum":10000}
 }},
{"data":{"values":[{}]},
 "mark":{"type":"text","align":"center","baseline":"middle","fontSize":11,"lineHeight":15.5,"color":"#333","clip":false},
 "encoding":{
  "x":{"datum":{"year":2011,"month":9,"date":1},"type":"temporal"},
  "y":{"datum":19,"type":"quantitative"},
  "text":{"value":["Many of the results of","measurement in this period","exhibit values less than the","detection limits"]}
 }},
{"data":{"values":[{}]},
 "mark":{"type":"point","shape":"triangle-left","filled":true,"color":"#111","size":70,"clip":false},
 "encoding":{
  "x":{"datum":{"year":2011,"month":8,"date":7,"hours":21},"type":"temporal"},
  "y":{"datum":3.7,"type":"quantitative"}
 }},
{"data":{"values":[{}]},
 "mark":{"type":"point","shape":"triangle-right","filled":true,"color":"#111","size":70,"clip":false},
 "encoding":{
  "x":{"datum":{"year":2011,"month":9,"date":28,"hours":5},"type":"temporal"},
  "y":{"datum":3.7,"type":"quantitative"}
 }},
{"data":{"values":[{}]},
 "mark":{"type":"rule","color":"#ff6a10","strokeWidth":6,"clip":false},
 "encoding":{
  "x":{"datum":{"year":2011,"month":10,"date":9,"hours":14},"type":"temporal"},
  "y":{"datum":3250,"type":"quantitative"},
  "y2":{"datum":7}
 }},
{"data":{"values":[{}]},
 "mark":{"type":"point","shape":"triangle-down","filled":true,"color":"#ff6a10","size":300,"opacity":1,"clip":false},
 "encoding":{
  "x":{"datum":{"year":2011,"month":10,"date":9,"hours":14},"type":"temporal"},
  "y":{"datum":5,"type":"quantitative"}
 }},
{"data":{"values":[{}]},
 "mark":{"type":"text","align":"left","baseline":"top","font":"DejaVu Sans","fontWeight":"bold","fontSize":16,"lineHeight":21,"color":"#000","clip":false},
 "encoding":{
  "x":{"datum":{"year":2011,"month":10,"date":13,"hours":5},"type":"temporal"},
  "y":{"datum":190,"type":"quantitative"},
  "text":{"value":["Decreased to","about 1/1000"]}
 }}
]
}
